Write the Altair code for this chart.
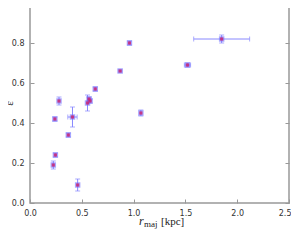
import altair as alt
import pandas as pd

x = [0.225, 0.245, 0.24, 0.28, 0.37, 0.41, 0.46, 0.555, 0.57, 0.58, 0.63, 0.87, 0.96, 1.07, 1.52, 1.85]
y = [0.19, 0.24, 0.42, 0.51, 0.34, 0.43, 0.09, 0.50, 0.52, 0.51, 0.57, 0.66, 0.80, 0.45, 0.69, 0.82]
xerr = [0.0, 0.0, 0.0, 0.0, 0.0, 0.045, 0.0, 0.0, 0.0, 0.0, 0.0, 0.0, 0.0, 0.0, 0.03, 0.27]
yerr = [0.02, 0.01, 0.01, 0.02, 0.01, 0.05, 0.03, 0.04, 0.01, 0.01, 0.01, 0.005, 0.01, 0.015, 0.01, 0.02]

df = pd.DataFrame({"x": x, "y": y, "xerr": xerr, "yerr": yerr})
df["xlo"] = df.x - df.xerr
df["xhi"] = df.x + df.xerr
df["ylo"] = df.y - df.yerr
df["yhi"] = df.y + df.yerr

FONT = "DejaVu Sans"
GRAY = "#999999"
EB = "#8888ff"

xs = alt.Scale(domain=[0, 2.5], nice=False, zero=False)
ys = alt.Scale(domain=[0, 1.0], nice=False, zero=False)

xb = alt.Axis(orient="bottom", values=[0, 0.5, 1.0, 1.5, 2.0, 2.5], format=".1f",
              offset=-4, tickSize=4, tickColor=GRAY, domain=False, grid=False,
              labelPadding=6, labelFont=FONT, labelFontSize=8, labelColor="#333",
              labelFlush=False, labelOverlap=False,
              labelAlign={"condition": {"test": "datum.value >= 2.5", "value": "right"}, "value": "center"},
              labelOffset={"condition": {"test": "datum.value >= 2.5", "value": 2}, "value": 0},
              title=None)
yl = alt.Axis(orient="left", values=[0, 0.2, 0.4, 0.6, 0.8, 1.0], format=".1f",
              offset=-4, tickSize=4, tickColor=GRAY, domain=False, grid=False,
              labelPadding=6, labelFont=FONT, labelFontSize=8, labelColor="#333",
              labelFlush=False, labelOverlap=False,
              title="ε", titleFont="Liberation Serif", titleFontSize=11, titleFontWeight="normal",
              titleX=-20, titleY=100, titleColor="#222")
xt = alt.Axis(orient="top", values=[0, 0.5, 1.0, 1.5, 2.0, 2.5], offset=-4, tickSize=4,
              tickColor=GRAY, domain=False, grid=False, labels=False, title=None)
yr = alt.Axis(orient="right", values=[0, 0.2, 0.4, 0.6, 0.8, 1.0], offset=-4, tickSize=4,
              tickColor=GRAY, domain=False, grid=False, labels=False, title=None)

base = alt.Chart(df)

frame = base.mark_point(opacity=0).encode(
    x=alt.X("x:Q", scale=xs, axis=xt),
    y=alt.Y("y:Q", scale=ys, axis=yr),
)
main_axes = base.mark_point(opacity=0).encode(
    x=alt.X("x:Q", scale=xs, axis=xb),
    y=alt.Y("y:Q", scale=ys, axis=yl),
)

xf = base.transform_filter("datum.xerr > 0")
xbars = xf.mark_rule(color=EB, strokeWidth=1).encode(
    x=alt.X("xlo:Q", scale=xs, axis=None), x2="xhi:Q", y=alt.Y("y:Q", scale=ys, axis=None)
)
xcaps_lo = xf.mark_tick(color=EB, size=5, thickness=1, orient="vertical").encode(
    x=alt.X("xlo:Q", scale=xs, axis=None), y=alt.Y("y:Q", scale=ys, axis=None)
)
xcaps_hi = xf.mark_tick(color=EB, size=5, thickness=1, orient="vertical").encode(
    x=alt.X("xhi:Q", scale=xs, axis=None), y=alt.Y("y:Q", scale=ys, axis=None)
)
ybars = base.mark_rule(color=EB, strokeWidth=1).encode(
    x=alt.X("x:Q", scale=xs, axis=None), y=alt.Y("ylo:Q", scale=ys, axis=None), y2="yhi:Q"
)
ycaps_lo = base.mark_tick(color=EB, size=5, thickness=1, orient="horizontal").encode(
    x=alt.X("x:Q", scale=xs, axis=None), y=alt.Y("ylo:Q", scale=ys, axis=None)
)
ycaps_hi = base.mark_tick(color=EB, size=5, thickness=1, orient="horizontal").encode(
    x=alt.X("x:Q", scale=xs, axis=None), y=alt.Y("yhi:Q", scale=ys, axis=None)
)
outer = base.mark_square(color="#7070ff", opacity=0.6, size=30).encode(
    x=alt.X("x:Q", scale=xs, axis=None), y=alt.Y("y:Q", scale=ys, axis=None)
)
inner = base.mark_square(color="#d0206a", opacity=0.8, size=10).encode(
    x=alt.X("x:Q", scale=xs, axis=None), y=alt.Y("y:Q", scale=ys, axis=None)
)

lab_r = alt.Chart(pd.DataFrame({"t": ["r"]})).mark_text(
    font="Liberation Serif", fontStyle="italic", fontSize=12, align="left", baseline="alphabetic", color="#222"
).encode(x=alt.value(109), y=alt.value(222), text="t:N")
lab_sub = alt.Chart(pd.DataFrame({"t": ["maj"]})).mark_text(
    font="Liberation Serif", fontSize=9, align="left", baseline="alphabetic", color="#222"
).encode(x=alt.value(114), y=alt.value(224), text="t:N")
lab_kpc = alt.Chart(pd.DataFrame({"t": ["[kpc]"]})).mark_text(
    font="Liberation Serif", fontSize=11, align="left", baseline="alphabetic", color="#222"
).encode(x=alt.value(131), y=alt.value(222), text="t:N")

chart = alt.layer(
    frame, main_axes, xbars, xcaps_lo, xcaps_hi, ybars, ycaps_lo, ycaps_hi, outer, inner,
    lab_r, lab_sub, lab_kpc
).resolve_axis(x="independent", y="independent").properties(
    width=259, height=200,
    autosize=alt.AutoSizeParams(type="none"),
    padding={"left": 22, "top": -5, "right": 2, "bottom": 30},
).configure_view(stroke=GRAY, strokeWidth=1.5)

chart.save("out.html", embed_options={"renderer": "svg", "actions": False})
